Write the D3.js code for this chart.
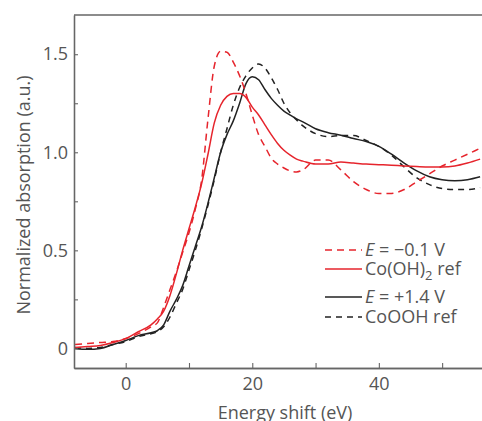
<!DOCTYPE html>
<html>
<head>
<meta charset="utf-8">
<script src="https://cdn.jsdelivr.net/npm/d3@7"></script>
<style>
  body { margin: 0; background: #fff; }
  text { font-family: "Open Sans", "Noto Sans", sans-serif; fill: #555; }
</style>
</head>
<body>
<svg width="482" height="421"></svg>
<script>
//energy grid (eV) shared by all series
var energy = [-8, -6, -4, -2, 0, 2, 4, 5, 6, 7, 8, 9, 10, 11, 12, 13, 14, 15, 16, 17, 18, 19, 20,
    21, 22, 23, 24, 25, 26, 27, 28, 30, 32, 34, 36, 38, 40, 42, 44, 46, 48, 50, 52, 54, 56];

//E = -0.1 V (red dashed)
var redDashed = [0.02, 0.025, 0.03, 0.035, 0.05, 0.075, 0.11, 0.13, 0.21, 0.30, 0.39, 0.49, 0.59, 0.71, 0.86, 1.17, 1.44, 1.515,
    1.51, 1.46, 1.39, 1.30, 1.19, 1.09, 1.03, 0.97, 0.94, 0.92, 0.905, 0.90, 0.91, 0.96, 0.96, 0.91, 0.85, 0.81, 0.79,
    0.79, 0.81, 0.85, 0.89, 0.93, 0.96, 0.99, 1.02];

//Co(OH)2 ref (red solid)
var redSolid = [0.005, 0.01, 0.015, 0.03, 0.05, 0.085, 0.12, 0.15, 0.19, 0.27, 0.38, 0.50, 0.61, 0.72, 0.84, 0.99, 1.15, 1.24,
    1.285, 1.30, 1.30, 1.28, 1.23, 1.19, 1.14, 1.09, 1.045, 1.01, 0.985, 0.965, 0.955, 0.94, 0.94, 0.95, 0.945, 0.94, 0.937,
    0.934, 0.93, 0.927, 0.925, 0.925, 0.93, 0.945, 0.965];

//E = +1.4 V (black solid)
var blackSolid = [0.0, -0.005, 0.0, 0.02, 0.04, 0.065, 0.08, 0.09, 0.12, 0.19, 0.25, 0.32, 0.42, 0.52, 0.62, 0.74, 0.87, 1.0,
    1.09, 1.16, 1.25, 1.35, 1.385, 1.37, 1.32, 1.275, 1.24, 1.21, 1.19, 1.17, 1.155, 1.12, 1.10, 1.087, 1.07, 1.055, 1.03,
    0.99, 0.945, 0.905, 0.875, 0.86, 0.855, 0.86, 0.875];

//CoOOH ref (black dashed)
var blackDashed = [0.005, 0.0, 0.005, 0.02, 0.035, 0.06, 0.075, 0.085, 0.11, 0.16, 0.23, 0.30, 0.40, 0.50, 0.61, 0.73, 0.86, 1.0,
    1.12, 1.24, 1.33, 1.39, 1.43, 1.45, 1.43, 1.38, 1.32, 1.25, 1.20, 1.165, 1.135, 1.095, 1.08, 1.085, 1.085, 1.06, 1.03,
    0.985, 0.925, 0.87, 0.835, 0.815, 0.81, 0.81, 0.82];

var xMajor = [0, 20, 40];
var xMinor = [10, 30, 50];
var yMajor = [0, 0.5, 1.0, 1.5];
var yMinor = [0.25, 0.75, 1.25];

var series = [
    { name: "E = −0.1 V", values: redDashed, color: "#e6242c", dash: "7,5" },
    { name: "Co(OH)2 ref", values: redSolid, color: "#e6242c", dash: null },
    { name: "E = +1.4 V", values: blackSolid, color: "#222", dash: null },
    { name: "CoOOH ref", values: blackDashed, color: "#222", dash: "6,5" }
];

var svg = d3.select("svg"),
    width = +svg.attr("width"),
    height = +svg.attr("height");

var plotLeft = 74, plotTop = 15, plotBottom = 368;

var x = d3.scaleLinear().domain([-8.17, 56.3]).range([plotLeft, width]);
var y = d3.scaleLinear().domain([-0.1, 1.7]).range([plotBottom, plotTop]);

//clip
svg.append("clipPath").attr("id", "clip")
    .append("rect")
    .attr("x", plotLeft).attr("y", plotTop)
    .attr("width", width - plotLeft).attr("height", plotBottom - plotTop);

//curves
var line = d3.line()
    .x(function (d, i) { return x(energy[i]); })
    .y(function (d) { return y(d); })
    .curve(d3.curveMonotoneX);

svg.append("g").attr("clip-path", "url(#clip)")
    .selectAll("path")
    .data(series.slice().reverse())
    .enter()
    .append("path")
    .attr("d", function (d) { return line(d.values); })
    .attr("fill", "none")
    .attr("stroke", function (d) { return d.color; })
    .attr("stroke-width", 1.5)
    .attr("stroke-dasharray", function (d) { return d.dash; });

//axes
function styleAxis(g) {
    g.select(".domain").attr("stroke", "#666").attr("stroke-width", 1.3);
    g.selectAll(".tick line").attr("stroke", "#666").attr("stroke-width", 1.1);
    g.selectAll(".tick text").style("font-size", "18px").attr("fill", "#555");
}

svg.append("g")
    .attr("transform", "translate(" + plotLeft + ",0)")
    .call(d3.axisLeft(y).tickValues(yMajor).tickSizeInner(-4).tickSizeOuter(0).tickPadding(6)
        .tickFormat(function (d) { return d === 0 ? "0" : d3.format(".1f")(d); }))
    .call(styleAxis);

svg.append("g")
    .attr("transform", "translate(" + plotLeft + ",0)")
    .call(d3.axisLeft(y).tickValues(yMinor).tickSizeInner(-4).tickSizeOuter(0).tickFormat(""))
    .call(styleAxis);

svg.append("g")
    .attr("transform", "translate(0," + plotBottom + ")")
    .call(d3.axisBottom(x).tickValues(xMajor).tickSizeInner(-5).tickSizeOuter(0).tickPadding(9))
    .call(styleAxis);

svg.append("g")
    .attr("transform", "translate(0," + plotBottom + ")")
    .call(d3.axisBottom(x).tickValues(xMinor).tickSizeInner(-5).tickSizeOuter(0).tickFormat(""))
    .call(styleAxis);

//top frame line
svg.append("line")
    .attr("x1", plotLeft).attr("x2", width)
    .attr("y1", plotTop).attr("y2", plotTop)
    .attr("stroke", "#666").attr("stroke-width", 1.3);

//axis titles
svg.append("text")
    .attr("x", 285).attr("y", 419)
    .attr("text-anchor", "middle")
    .style("font-size", "18px")
    .text("Energy shift (eV)");

svg.append("text")
    .attr("transform", "translate(30,195) rotate(-90)")
    .attr("text-anchor", "middle")
    .style("font-size", "18px")
    .text("Normalized absorption (a.u.)");

//legend
var legendY = [250, 269, 297, 317];
var legend = svg.selectAll(".legend")
    .data(series)
    .enter()
    .append("g")
    .attr("class", "legend")
    .attr("transform", function (d, i) { return "translate(325," + legendY[i] + ")"; });

legend.append("line")
    .attr("x1", 0).attr("x2", 37)
    .attr("stroke", function (d) { return d.color; })
    .attr("stroke-width", 1.5)
    .attr("stroke-dasharray", function (d) { return d.dash; });

var lt = legend.append("text")
    .attr("x", 40).attr("dy", "0.35em")
    .style("font-size", "18px");

lt.each(function (d) {
    var t = d3.select(this);
    if (d.name.indexOf("E =") === 0) {
        t.append("tspan").style("font-style", "italic").text("E");
        t.append("tspan").text(d.name.slice(1));
    } else if (d.name.indexOf("Co(OH)2") === 0) {
        t.append("tspan").text("Co(OH)");
        t.append("tspan").attr("dy", 5).style("font-size", "13px").text("2");
        t.append("tspan").attr("dy", -5).text(" ref");
    } else {
        t.text(d.name);
    }
});
</script>
</body>
</html>
